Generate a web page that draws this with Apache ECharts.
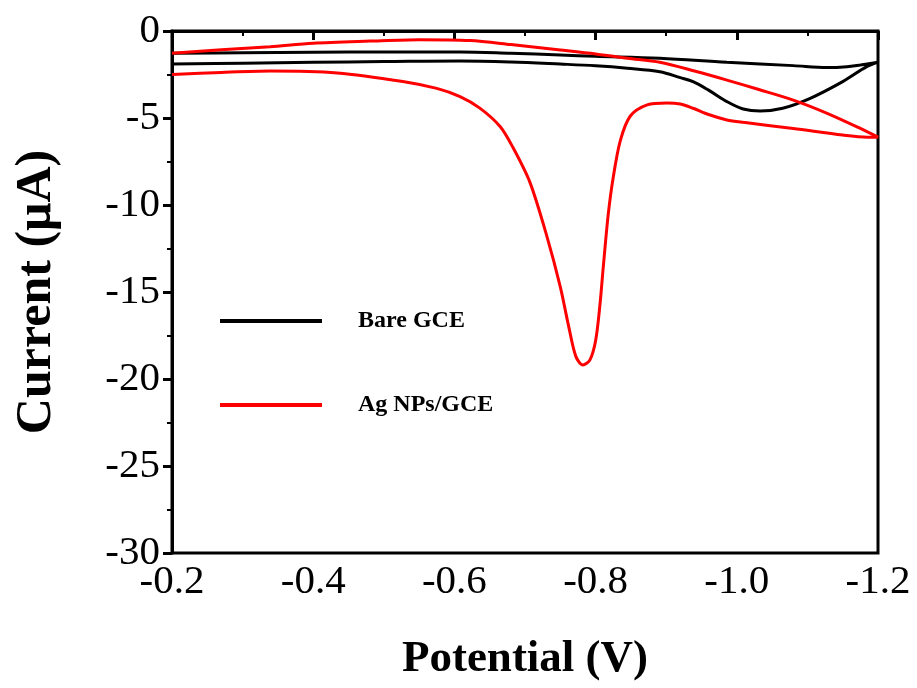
<!DOCTYPE html>
<html>
<head>
<meta charset="utf-8">
<script src="https://cdn.jsdelivr.net/npm/echarts@6/dist/echarts.min.js"></script>
<style>
  html, body { margin: 0; padding: 0; background: #fff; }
  #chart { width: 917px; height: 688px; }
</style>
</head>
<body>
<div id="chart"></div>
<script>
// Potential (V) / Current (uA) pairs
// Bare GCE: forward scan (-0.2 -> -1.2), then return scan
const bareForward = [
  [-0.2, -1.9], [-0.3, -1.85], [-0.4, -1.8], [-0.5, -1.76], [-0.608, -1.72],
  [-0.68, -1.78], [-0.75, -1.9], [-0.8, -2.0], [-0.845, -2.14], [-0.891, -2.34],
  [-0.92, -2.68], [-0.938, -2.91], [-0.96, -3.4], [-0.986, -4.06], [-1.009, -4.48],
  [-1.033, -4.6], [-1.065, -4.44], [-1.104, -3.87], [-1.15, -2.91], [-1.184, -2.05],
  [-1.2, -1.8]
];
const bareReturn = [
  [-1.2, -1.8], [-1.175, -1.95], [-1.156, -2.05], [-1.128, -2.1], [-1.08, -1.99],
  [-0.986, -1.8], [-0.891, -1.57], [-0.8, -1.45], [-0.75, -1.38], [-0.68, -1.28],
  [-0.608, -1.2], [-0.5, -1.2], [-0.4, -1.22], [-0.3, -1.25], [-0.2, -1.28]
];
// Ag NPs/GCE
const agForward = [
  [-0.2, -2.5], [-0.27, -2.38], [-0.339, -2.3], [-0.434, -2.41], [-0.527, -2.9],
  [-0.575, -3.3], [-0.608, -3.77], [-0.636, -4.43], [-0.665, -5.5], [-0.683, -6.7],
  [-0.707, -8.7], [-0.731, -11.8], [-0.75, -14.7], [-0.762, -17.0], [-0.772, -18.7],
  [-0.782, -19.2], [-0.792, -18.9], [-0.8, -17.8], [-0.806, -15.8],
  [-0.811, -13.5], [-0.818, -10.5], [-0.825, -8.4], [-0.835, -6.3], [-0.849, -4.9],
  [-0.873, -4.25], [-0.901, -4.14], [-0.92, -4.2], [-0.938, -4.44], [-0.96, -4.8],
  [-0.986, -5.11], [-1.009, -5.25], [-1.08, -5.6], [-1.15, -5.98], [-1.185, -6.1],
  [-1.2, -6.1]
];
const agReturn = [
  [-1.2, -6.1], [-1.175, -5.6], [-1.128, -4.73], [-1.08, -3.97], [-1.03, -3.35],
  [-0.986, -2.82], [-0.94, -2.3], [-0.891, -1.8], [-0.845, -1.57], [-0.8, -1.32],
  [-0.75, -1.09], [-0.68, -0.78], [-0.622, -0.55], [-0.55, -0.5], [-0.48, -0.58],
  [-0.4, -0.7], [-0.339, -0.9], [-0.27, -1.08], [-0.2, -1.28]
];

const bareData = bareForward.concat(bareReturn.slice(1));
const agData = agForward.concat(agReturn.slice(1));

const seriesNames = ['Bare GCE', 'Ag NPs/GCE'];
const xTicks = { min: -1.2, max: -0.2, step: 0.2 };
const yTicks = { min: -30, max: 0, step: 5 };

const font = "'Liberation Serif', 'Times New Roman', serif";
const chart = echarts.init(document.getElementById('chart'));

const option = {
  animation: false,
  backgroundColor: '#fff',
  grid: {
    left: 172, right: 39, top: 31, bottom: 135,
    show: true, borderColor: '#000', borderWidth: 3
  },
  legend: {
    orient: 'vertical',
    left: 215, top: 304,
    itemWidth: 102, itemHeight: 4,
    itemGap: 60,
    icon: 'rect',
    data: seriesNames,
    textStyle: {
      fontFamily: font, fontWeight: 'bold', fontSize: 24, color: '#000',
      padding: [0, 0, 0, 31]
    }
  },
  xAxis: {
    type: 'value',
    inverse: true,
    min: xTicks.min, max: xTicks.max, interval: xTicks.step,
    name: 'Potential (V)',
    nameLocation: 'middle',
    nameGap: 84,
    nameTextStyle: { fontFamily: font, fontWeight: 'bold', fontSize: 45, color: '#000' },
    axisLine: { lineStyle: { color: '#000', width: 3 } },
    axisTick: { length: 9, lineStyle: { color: '#000', width: 3 } },
    minorTick: { show: true, splitNumber: 2, length: 5, lineStyle: { color: '#000', width: 2 } },
    splitLine: { show: false },
    axisLabel: {
      fontFamily: font, fontSize: 41, color: '#000', margin: 9,
      formatter: v => v.toFixed(1)
    }
  },
  yAxis: {
    type: 'value',
    min: yTicks.min, max: yTicks.max, interval: yTicks.step,
    name: 'Current (\u03bcA)',
    nameLocation: 'middle',
    nameGap: 110,
    nameTextStyle: { fontFamily: font, fontWeight: 'bold', fontSize: 50, color: '#000' },
    axisLine: { lineStyle: { color: '#000', width: 3 } },
    axisTick: { length: 9, lineStyle: { color: '#000', width: 3 } },
    minorTick: { show: true, splitNumber: 2, length: 5, lineStyle: { color: '#000', width: 2 } },
    splitLine: { show: false },
    axisLabel: { fontFamily: font, fontSize: 41, color: '#000', margin: 12 }
  },
  series: [
    {
      name: seriesNames[0], type: 'line', data: bareData,
      showSymbol: false, smooth: 0.35, color: '#000',
      lineStyle: { width: 3, color: '#000' }
    },
    {
      name: seriesNames[1], type: 'line', data: agData,
      showSymbol: false, smooth: 0.3, color: '#ff0000',
      lineStyle: { width: 3, color: '#ff0000' }
    }
  ]
};

chart.setOption(option);
</script>
</body>
</html>
